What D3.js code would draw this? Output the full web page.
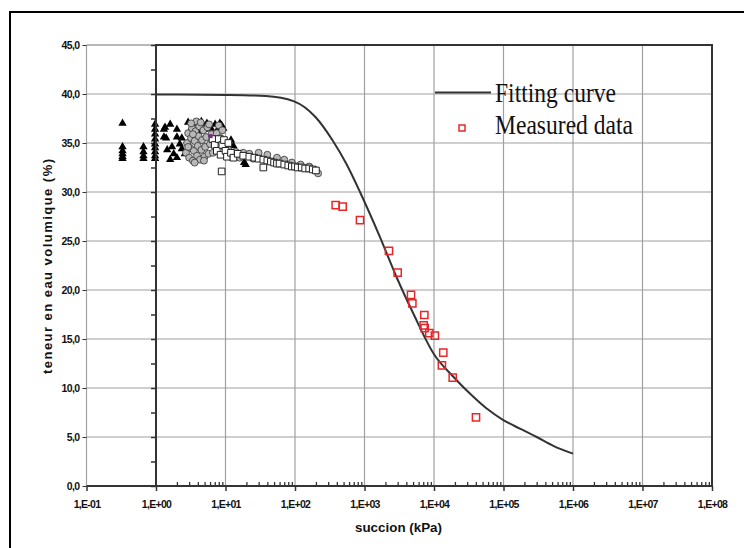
<!DOCTYPE html>
<html><head><meta charset="utf-8">
<script src="https://cdn.jsdelivr.net/npm/d3@7"></script>
<style>body{margin:0;background:#fff}svg{display:block}</style>
</head><body>
<svg id="c" width="744" height="548"></svg>
<script>
// ---------- data ----------
const xTickValues = [1e-1,1e0,1e1,1e2,1e3,1e4,1e5,1e6,1e7,1e8];
const xTickLabels = ["1,E-01","1,E+00","1,E+01","1,E+02","1,E+03","1,E+04","1,E+05","1,E+06","1,E+07","1,E+08"];
const yTickValues = [0,5,10,15,20,25,30,35,40,45];
const yTickLabels = ["0,0","5,0","10,0","15,0","20,0","25,0","30,0","35,0","40,0","45,0"];

// fitting curve (suction kPa, volumetric water content %)
const fitSuction = [1,10,38,97,197,352,550,861,1670,2940,5040,10000,18970,36800,57300,99300,172600,300600,521000,1000000];
const fitTheta   = [39.95,39.9,39.8,39.25,37.65,35.2,32.85,30.0,25.4,21.2,17.6,13.45,11.15,9.1,7.9,6.73,5.85,5.0,4.1,3.3];

// measured data (red squares)
const measSuction = [385,485,861,2250,3000,4670,4880,7260,7340,7100,8570,10300,13600,13000,18600,40200];
const measTheta   = [28.67,28.5,27.14,24.0,21.77,19.5,18.64,17.45,16.1,16.4,15.6,15.34,13.6,12.3,11.05,7.0];

// laboratory data: black triangles
const triSuction = [0.33,0.33,0.33,0.33,0.33,0.33,0.66,0.66,0.66,0.66,0.97,0.97,0.97,0.97,0.97,0.97,0.97,0.97,0.97,
  1.3,1.3,1.35,1.6,2.0,1.4,2.0,2.35,1.7,1.8,2.0,2.35,1.6,1.45,2.6,2.2,
  2.9,3.6,4.5,5.4,7.1,8.3,8.8,3.3,4.2,6.2,3.0,4.0,5.0,7.6,9.3,12,13,19.5,18.5];
const triTheta   = [37.0,34.6,34.2,33.9,33.6,33.4,34.6,34.1,33.7,33.4,36.9,36.4,35.9,35.4,34.9,34.5,34.1,33.7,33.4,
  36.4,35.6,36.6,36.9,36.4,35.5,35.6,35.5,34.6,33.9,33.5,34.4,33.3,34.3,33.9,34.9,
  37.1,37.0,37.2,37.0,36.9,37.0,36.8,36.6,36.8,36.5,36.1,36.2,36.4,36.3,36.5,35.3,34.7,32.8,33.0];

// laboratory data: grey circles
const cirSuction = [2.7,2.8,2.9,3.0,3.1,3.2,3.3,3.4,3.5,3.6,3.7,3.8,3.9,4.0,4.1,4.2,4.3,4.5,4.6,4.8,5.0,5.1,5.3,5.5,5.7,6.0,6.3,6.6,7.0,7.5,8.0,8.5,9.0,9.5,
  3.2,3.6,4.4,4.9,5.8,2.9,3.4,
  11,12,14,16,18,22,25,30,40,55,70,90,120,160,200,215];
const cirTheta   = [34.0,35.0,36.0,33.5,34.5,35.5,36.5,33.2,34.2,35.2,36.2,37.2,33.7,34.7,35.7,36.7,33.3,34.3,35.3,36.3,33.6,34.6,35.6,36.6,33.9,34.9,35.9,34.0,35.0,36.0,36.8,35.5,36.3,34.6,
  37.0,33.0,37.1,33.2,36.9,34.6,35.9,
  34.3,33.6,34.1,33.5,34.0,33.9,33.4,34.0,33.8,33.5,33.3,33.0,32.8,32.6,32.2,31.9];

// laboratory data: white squares
const sqSuction = [6.5,7,7.5,8,8.5,9,9.5,10,10.5,11,12,13,8.8,
  15,18,22,26,30,35,40,35,45,50,55,60,70,80,90,100,110,125,140,160,180,200];
const sqTheta   = [35.4,34.8,34.2,35.4,33.8,34.8,35.3,34.2,33.6,35.0,34.0,33.5,32.1,
  33.9,33.7,33.6,33.5,33.4,33.3,33.2,32.5,33.1,33.0,32.9,32.9,32.8,32.7,32.6,32.6,32.5,32.5,32.4,32.4,32.3,32.2];

// ---------- drawing ----------
const svg = d3.select("#c");
const x = d3.scaleLog().domain([1e-1,1e8]).range([86.5,712]);
const y = d3.scaleLinear().domain([0,45]).range([486,45]);
const gridCol = "#a0a0a0", dark = "#333";

// outer frame (left and top visible)
svg.append("path").attr("d","M10,548V12H744").attr("fill","none").attr("stroke","#000").attr("stroke-width",2);

// grid
const g = svg.append("g");
g.selectAll(".hg").data(yTickValues.filter(v=>v>0 && v<45)).join("line")
  .attr("x1",x(1e-1)).attr("x2",x(1e8)).attr("y1",d=>y(d)).attr("y2",d=>y(d))
  .attr("stroke",gridCol).attr("stroke-width",1.2);
g.selectAll(".vg").data(xTickValues).join("line")
  .attr("x1",d=>x(d)).attr("x2",d=>x(d)).attr("y1",y(45)).attr("y2",y(0))
  .attr("stroke",gridCol).attr("stroke-width",1.2);
g.append("line").attr("x1",x(1e-1)).attr("x2",x(1e0)).attr("y1",y(45)).attr("y2",y(45))
  .attr("stroke",gridCol).attr("stroke-width",1.5);

// left axis labels (at 1E-01)
const yAxis = d3.axisLeft(y).tickValues(yTickValues).tickFormat((d,i)=>yTickLabels[i]).tickSize(4).tickPadding(3);
const ya = svg.append("g").attr("transform",`translate(${x(1e-1)},0)`).call(yAxis);
ya.select(".domain").remove();
ya.selectAll(".tick line").attr("stroke",dark);
ya.selectAll("text").attr("font-family","Liberation Sans, Arial, sans-serif").attr("font-size",10.5)
  .attr("font-weight","bold").attr("letter-spacing",-0.6).attr("fill","#111");

// bottom axis
const xAxis = d3.axisBottom(x).tickValues(xTickValues).tickFormat((d,i)=>xTickLabels[i]).tickSize(5).tickPadding(10);
const xa = svg.append("g").attr("transform",`translate(0,${y(0)})`).call(xAxis);
xa.select(".domain").remove();
xa.selectAll(".tick line").attr("stroke",dark).attr("stroke-width",1.5);
xa.selectAll("text").attr("font-family","Liberation Sans, Arial, sans-serif").attr("font-size",10.5)
  .attr("font-weight","bold").attr("letter-spacing",-0.7).attr("fill","#111");

// minor ticks pointing up
const minor = [];
for (let k=0;k<8;k++) for (let m=2;m<=9;m++) minor.push(m*Math.pow(10,k));
const xm = svg.append("g").attr("transform",`translate(0,${y(0)})`)
  .call(d3.axisTop(x).tickValues(minor).tickFormat("").tickSize(4));
xm.select(".domain").remove();
xm.selectAll(".tick line").attr("stroke",dark).attr("stroke-width",1.3);

// y minor ticks on the 1E+00 axis
const yMinor = d3.range(0,45.01,2.5);
const ym = svg.append("g").attr("transform",`translate(${x(1)},0)`)
  .call(d3.axisLeft(y).tickValues(yMinor).tickFormat("").tickSize(5));
ym.select(".domain").remove();
ym.selectAll(".tick line").attr("stroke",dark).attr("stroke-width",1.5);

// lab markers
const tri = d3.symbol(d3.symbolTriangle, 30);
svg.append("g").selectAll("path").data(d3.zip(triSuction,triTheta)).join("path")
  .attr("d",tri).attr("transform",d=>`translate(${x(d[0])},${y(d[1])})`).attr("fill","#000");
const cir = d3.symbol(d3.symbolCircle, 38);
svg.append("g").selectAll("path").data(d3.zip(cirSuction,cirTheta)).join("path")
  .attr("d",cir).attr("transform",d=>`translate(${x(d[0])},${y(d[1])})`)
  .attr("fill","#b8b8b8").attr("stroke","#333").attr("stroke-width",0.8);
const sq = d3.symbol(d3.symbolSquare, 44);
svg.append("g").selectAll("path").data(d3.zip(sqSuction,sqTheta)).join("path")
  .attr("d",sq).attr("transform",d=>`translate(${x(d[0])},${y(d[1])})`)
  .attr("fill","#fff").attr("stroke","#222").attr("stroke-width",1);
svg.append("rect").attr("x",x(6.1)-2).attr("y",y(35.7)-2).attr("width",4).attr("height",4).attr("fill","#7b2a7b");

// dark axis frame (second chart) from 1E+00 to 1E+08
svg.append("path").attr("d",`M${x(1)},${y(0)}V${y(45)}H${x(1e8)}V${y(0)}`)
  .attr("fill","none").attr("stroke",dark).attr("stroke-width",2);
svg.append("line").attr("x1",x(1e-1)).attr("x2",x(1e8)).attr("y1",y(0)).attr("y2",y(0))
  .attr("stroke",dark).attr("stroke-width",2);

// fitting curve
const line = d3.line().x(d=>x(d[0])).y(d=>y(d[1])).curve(d3.curveMonotoneX);
svg.append("path").datum(d3.zip(fitSuction,fitTheta)).attr("d",line)
  .attr("fill","none").attr("stroke",dark).attr("stroke-width",2);

// measured data
const msq = d3.symbol(d3.symbolSquare, 52);
svg.append("g").selectAll("path").data(d3.zip(measSuction,measTheta)).join("path")
  .attr("d",msq).attr("transform",d=>`translate(${x(d[0])},${y(d[1])})`)
  .attr("fill","none").attr("stroke","#e8262a").attr("stroke-width",1.5);

// legend
svg.append("line").attr("x1",435).attr("x2",491).attr("y1",92.5).attr("y2",92.5).attr("stroke",dark).attr("stroke-width",2);
svg.append("text").attr("x",495).attr("y",102).text("Fitting curve")
  .attr("font-family","Liberation Serif, Times New Roman, serif").attr("font-size",27)
  .attr("textLength",121).attr("lengthAdjust","spacingAndGlyphs").attr("fill","#111");
svg.append("rect").attr("x",459).attr("y",125).attr("width",6).attr("height",6)
  .attr("fill","none").attr("stroke","#e8262a").attr("stroke-width",1.5);
svg.append("text").attr("x",495).attr("y",133.5).text("Measured data")
  .attr("font-family","Liberation Serif, Times New Roman, serif").attr("font-size",27)
  .attr("textLength",138).attr("lengthAdjust","spacingAndGlyphs").attr("fill","#111");

// axis titles
svg.append("text").attr("x",398.5).attr("y",532).attr("text-anchor","middle").text("succion (kPa)")
  .attr("font-family","Liberation Sans, Arial, sans-serif").attr("font-size",13).attr("font-weight","bold")
  .attr("textLength",87).attr("lengthAdjust","spacingAndGlyphs").attr("fill","#111");
svg.append("text").attr("transform","translate(52,266.5) rotate(-90)").attr("text-anchor","middle")
  .text("teneur en eau volumique (%)")
  .attr("font-family","Liberation Sans, Arial, sans-serif").attr("font-size",13).attr("font-weight","bold")
  .attr("textLength",215).attr("lengthAdjust","spacing").attr("fill","#111");
</script>
</body></html>
